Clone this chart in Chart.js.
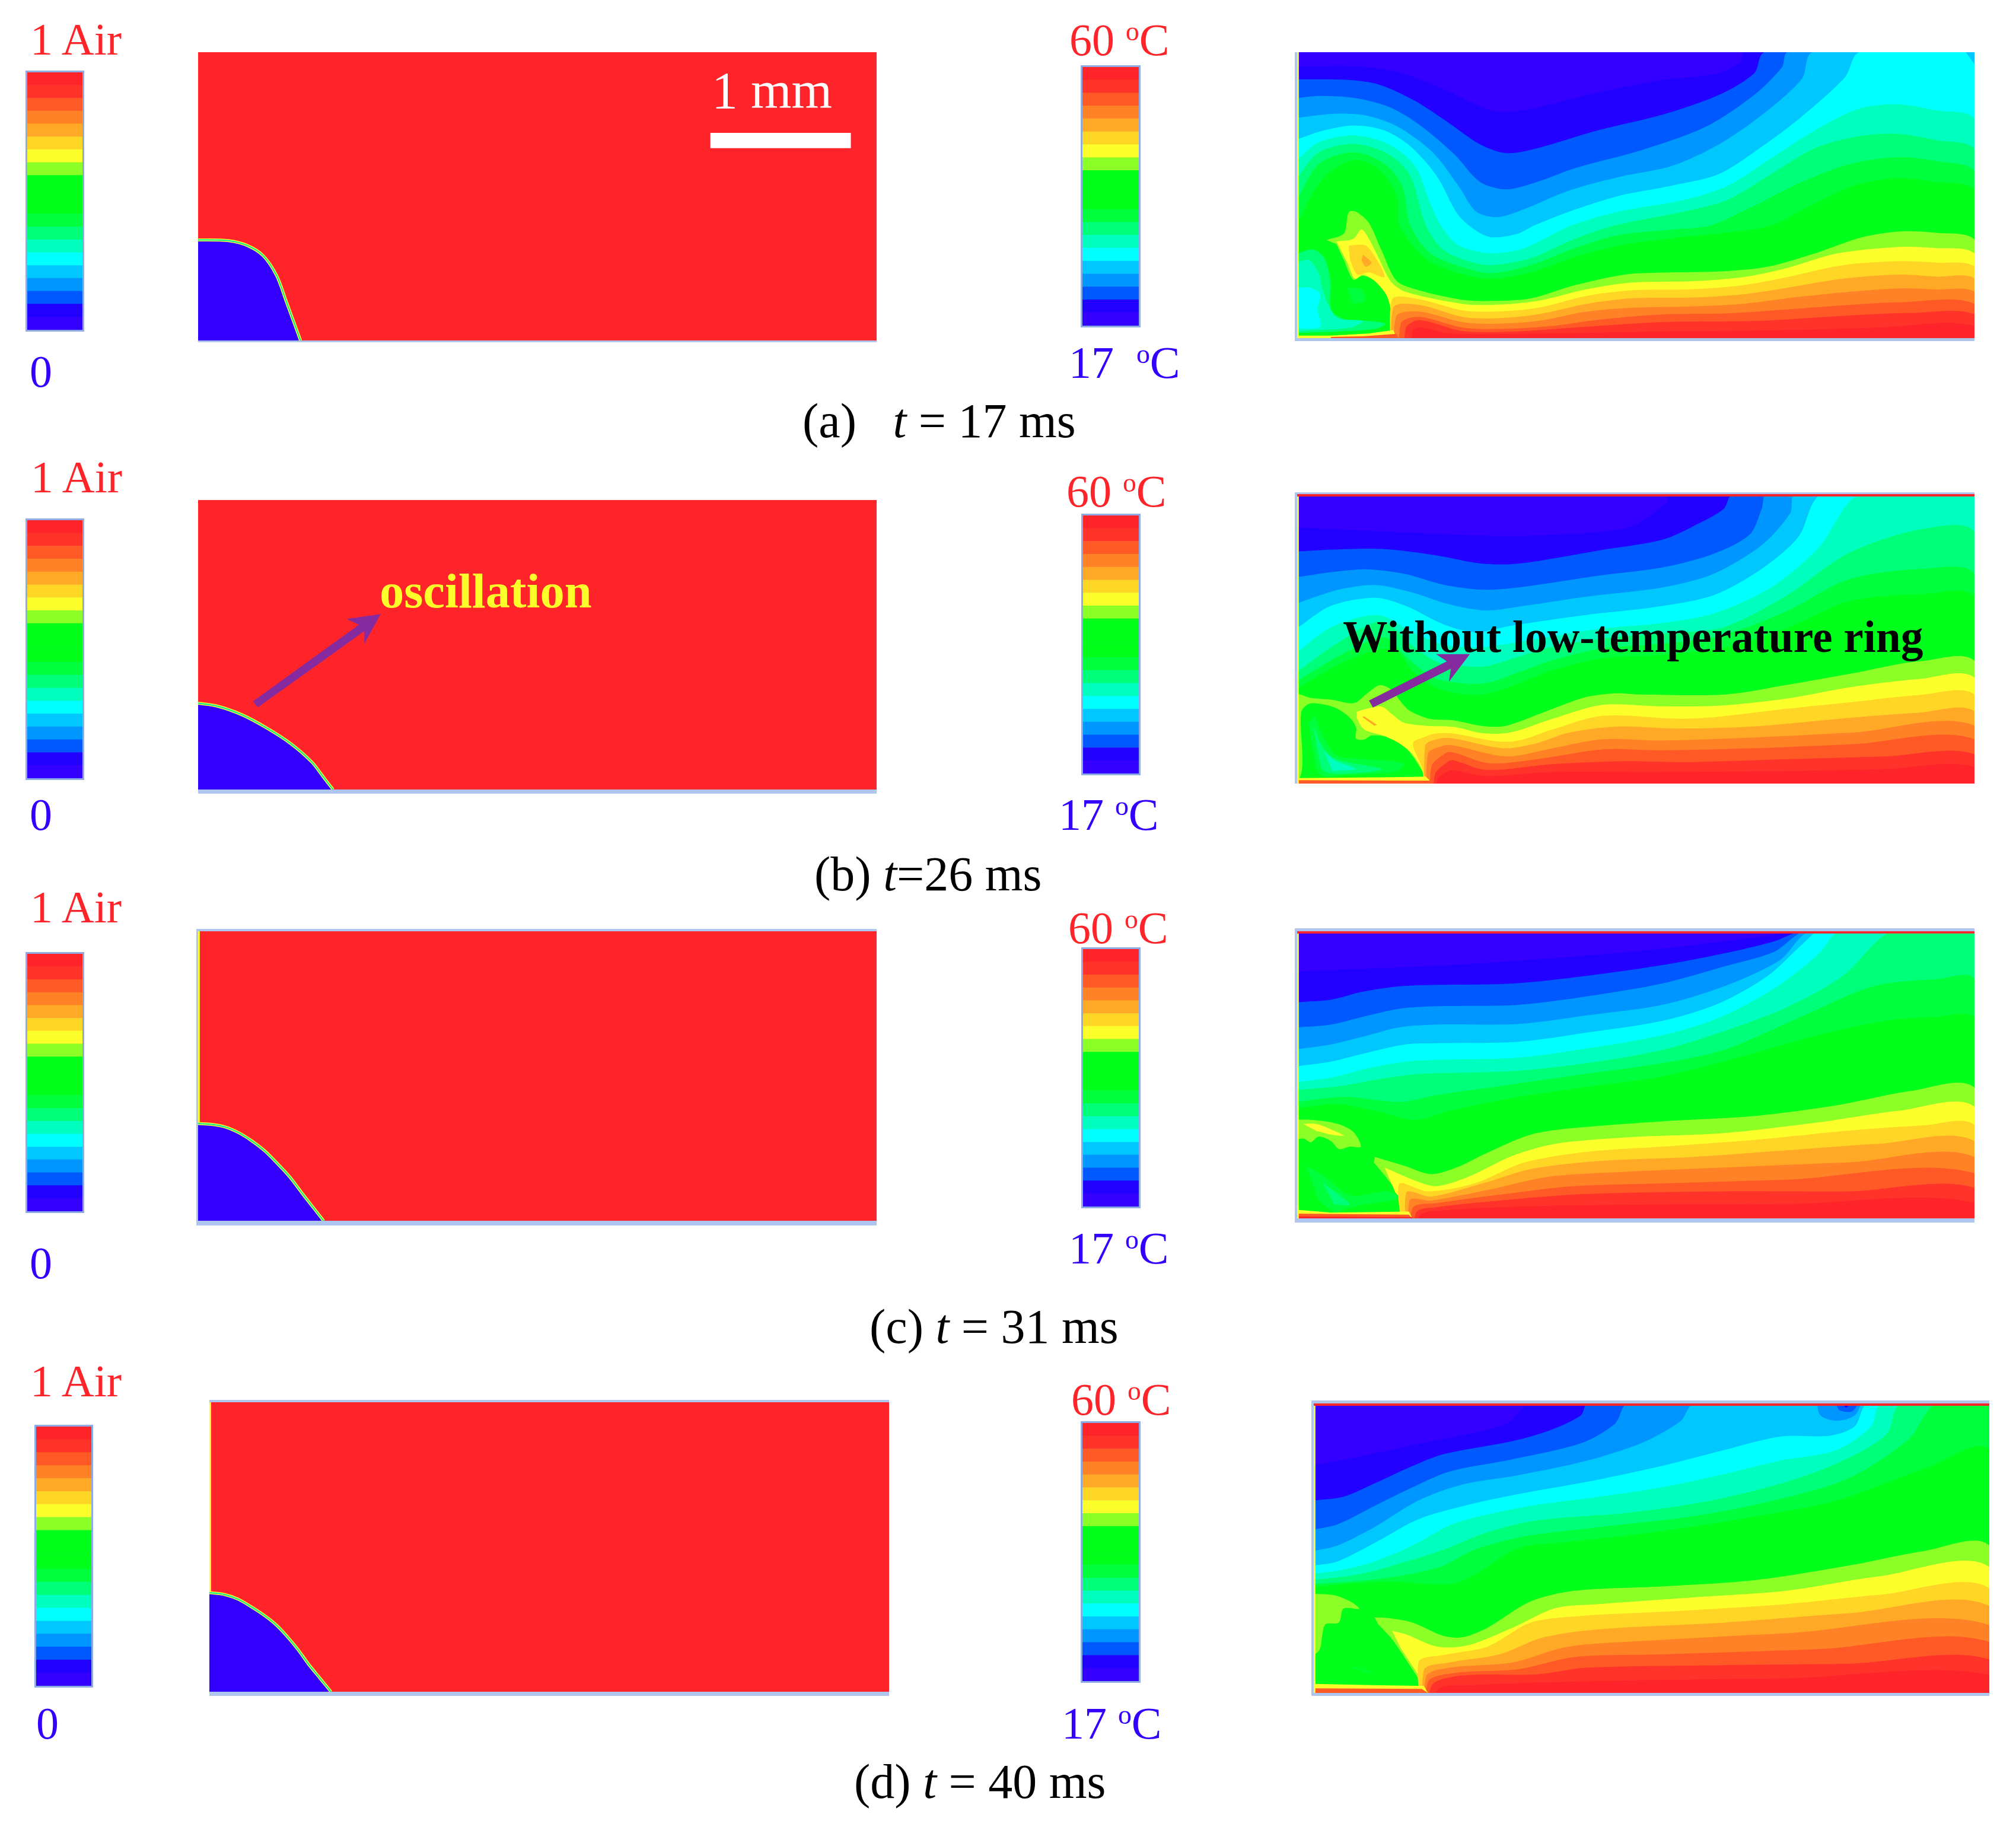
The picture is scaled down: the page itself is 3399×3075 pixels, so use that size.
<!DOCTYPE html>
<html>
<head>
<meta charset="utf-8">
<title>Droplet air fraction and temperature fields</title>
<script src="https://cdn.jsdelivr.net/npm/chart.js@4"></script>
<style>
html, body { margin: 0; padding: 0; background: #fff; }
#page { position: relative; width: 3399px; height: 3075px; overflow: hidden; font-family: "Liberation Serif", serif; }
#page canvas, .frame { position: absolute; display: block; }
.label { position: absolute; white-space: pre; line-height: 1; }
.label sup { font-size: 60%; line-height: 0; vertical-align: 0.55em; }
</style>
</head>
<body>
<div id="page"></div>
<script>
// colour legend values, bottom to top
const airLevels = [0, 0.05, 0.1, 0.15, 0.2, 0.25, 0.3, 0.35, 0.4, 0.45, 0.5, 0.55, 0.6, 0.65, 0.7, 0.75, 0.8, 0.85, 0.9, 0.95, 1];
const tempLevels = [17, 19.15, 21.3, 23.45, 25.6, 27.75, 29.9, 32.05, 34.2, 36.35, 38.5, 40.65, 42.8, 44.95, 47.1, 49.25, 51.4, 53.55, 55.7, 57.85, 60];

const violet = '#3300ff', indigo = '#2200ff', blue = '#0059ff', azure = '#0096ff', sky = '#00c8ff', cyan = '#00ffff';
const aqua = '#00ffbe', mint = '#00ff78', green2 = '#00ff3c', green = '#00ff1a', lime = '#8cff26', yellow = '#fdff2a';
const gold = '#ffd626', amber = '#ffa926', orange = '#ff8326', orRed = '#ff5a26', red2 = '#ff3329', red = '#ff2429';
const levelColors = [violet, indigo, blue, azure, sky, cyan, aqua, mint, green2, green, green, green, lime, yellow, gold, amber, orange, orRed, red2, red];

// field coordinates are percent of panel width and height, y from the wall
const wholePanel = [[-20, -20], [120, -20], [120, 120], [-20, 120]];
const leftWall = [[-2, -2], [0.25, -2], [0.25, 102], [-2, 102]];
const topWall = [[-2, 99.2], [102, 99.2], [102, 102], [-2, 102]];

// droplet outlines in the air fraction panels
const dropA = [[0, 34.9], [4.5, 34.6], [7.3, 32.9], [9.6, 29.4], [11.6, 22.4], [13, 13.5], [15.1, 0]];
const dropB = [[0, 29.8], [2.7, 28.9], [6.4, 25.9], [10.1, 21.3], [13.7, 15.8], [16.8, 9.4], [18.6, 3.9], [19.9, 0]];
const dropC = [[0, 33.6], [2, 33.3], [4, 32.4], [6, 30.4], [7.8, 27.8], [9.8, 24.2], [11.6, 20], [13.6, 14.9], [15.4, 9.3], [17, 4.5], [18.5, 0]];
const dropD = [[0, 34.2], [2.2, 33.6], [4.2, 32], [6, 29.6], [7.9, 26.7], [9.7, 23.4], [11.3, 19.5], [13, 14.7], [14.6, 9.5], [16.3, 4.6], [17.9, 0]];
const scaleBar = [[75.5, 72], [96.2, 72], [96.2, 66.7], [75.5, 66.7]];
const arrowB = [[8.1, 30.5], [8.8, 28.4], [24.5, 54.7], [24.5, 50.3], [26.9, 60.6], [21.9, 58.9], [23.7, 56.9]];

// temperature field (a) t = 17 ms
const aIndigo = [[0, 95], [9, 95], [15.4, 92.7], [21.9, 86.8], [28.3, 79.9], [32.8, 79.4], [44.3, 85.8], [54, 90.3], [62.3, 92.7], [65.5, 96.9], [66, 100]];
const aBlue = [[0, 90.5], [7.7, 90.3], [12.2, 88.6], [17.4, 83], [21.9, 76.1], [27, 67.8], [30.9, 64.7], [35.4, 66.4], [44.3, 72.6], [54, 78.2], [62.3, 85.1], [67.5, 92.7], [69, 100]];
const aAzure = [[0, 84], [3.3, 84.7], [8.4, 84], [13.5, 80.9], [18, 74.7], [23.2, 64.3], [27, 54.6], [30.9, 52], [35.4, 54.6], [41.1, 59.5], [50.8, 65.7], [60.4, 74], [67.5, 85.1], [71.6, 94.8], [72.4, 100]];
const aSky = [[0, 77.1], [5.8, 78.5], [10.3, 77.8], [14.8, 74], [20, 65], [23.8, 53.3], [26.4, 44.3], [29.6, 42.3], [33.4, 45], [40.5, 51.9], [47.6, 56.4], [55.3, 60.2], [62.3, 67.8], [68.7, 78.2], [74.5, 90.6], [76.1, 100]];
const aCyan = [[0, 69.5], [3.9, 72.6], [8.4, 74.4], [12.9, 72.6], [16.7, 67.1], [20.6, 56.7], [23.8, 43], [26.8, 37], [29, 35.2], [32.7, 36.6], [35, 39.4], [41.1, 45], [47.6, 49.8], [55.3, 53.3], [62.3, 57.4], [68.7, 67.1], [74.5, 77.5], [80.9, 91.3], [83, 100]];
const aAqua = [[0, 62.3], [3.2, 68.5], [8.4, 70.9], [13.5, 67.8], [17.4, 60.2], [19.5, 48], [21.2, 39.4], [23.5, 33], [26.2, 30.5], [29, 29.6], [33.6, 31.5], [40.5, 39.4], [47.6, 44.3], [57.2, 48.4], [63.6, 53.3], [70, 62.9], [76.4, 72.6], [82.9, 80.2], [88.6, 81.8], [94.4, 79.6], [100, 76.6]];
const aMint = [[0, 56], [3.2, 65], [8.4, 67.9], [13.5, 64.3], [16.7, 56.7], [19, 39.4], [21.5, 31], [24.5, 27.5], [28.5, 25.5], [34.5, 28], [41, 34.7], [46.9, 39.4], [57.2, 44.3], [63.6, 48.4], [70, 57.4], [76.4, 66.4], [82.9, 70.6], [88.6, 71.4], [94.4, 69.2], [100, 66]];
const aGreen2 = [[0, 48.4], [3.2, 60.9], [8.4, 65], [12.9, 60.9], [15.5, 53.3], [16.7, 39.4], [19.5, 30], [23.5, 25.5], [28.5, 22.7], [34.5, 25.5], [41, 31.5], [47.4, 36], [55.7, 38], [61, 39.4], [67.5, 46.3], [74.5, 54.6], [81.6, 60.9], [88.6, 63.3], [94.4, 61.9], [100, 58.4]];
const aGreen = [[0, 40], [2.6, 51.9], [5.2, 58.8], [8.7, 62.3], [12.2, 58.8], [14.8, 49.1], [15.1, 39.4], [18.9, 28], [23.5, 23], [28.5, 20.8], [34.5, 23], [41, 28.5], [48.4, 32.8], [55.7, 35], [63, 36.8], [70, 39.4], [75.2, 45.6], [82.2, 53.3], [88.6, 56], [94.4, 54.6], [100, 51.9]];
const aCorner = [[98.7, 100], [100, 95.8], [106, 94], [106, 106]];
const aLime = [[4.3, 34.3], [6.9, 36.6], [7.6, 44], [8.7, 44.2], [10.6, 40.3], [12.4, 31], [14.7, 20], [18, 16.7], [24.4, 13.4], [29, 13], [34.5, 13.9], [41, 18.5], [48.3, 22.2], [53.9, 22.9], [63, 23.4], [69.5, 25], [76.9, 30], [83.3, 35.2], [88.9, 37.3], [94.4, 36.8], [100, 34.5], [120, -20], [14.4, -20], [14.4, 0], [13.4, 14.4], [11.5, 19.9], [9.7, 21.8], [8.3, 20.4], [6.9, 27.3], [5.8, 32.9]];
const aYellow = [[5.8, 33.8], [8.3, 34.7], [9.5, 38], [10.6, 34.7], [12, 28.2], [13.8, 19.9], [16, 16.2], [24.4, 12], [29, 11.6], [35.5, 13], [42.8, 17.1], [49.3, 19.4], [58.5, 19.9], [65.8, 21.3], [72.3, 24.5], [79.7, 29.6], [88.9, 31.9], [94.4, 31.5], [100, 29.6], [120, -20], [14.4, -20], [14.4, 0], [13.4, 13.9], [11.5, 19.9], [9.7, 22.2], [8.5, 20.8], [7.4, 26.4]];
const aGold = [[14.4, -20], [14, 13.4], [18, 13.6], [24.4, 9.7], [29, 9.3], [35.5, 10.6], [42.8, 14.8], [49.3, 16.7], [58.5, 17.1], [65.8, 18.5], [72.3, 21.3], [80.6, 25.5], [88.9, 26.9], [94.4, 26.4], [100, 25]];
const aAmber = [[14.4, -20], [14.2, 10.6], [18, 11.6], [24.4, 7.4], [29, 6.9], [35.5, 8.3], [42.8, 12], [49.3, 13.9], [58.5, 14.2], [65.8, 15.3], [72.3, 17.6], [80.6, 20.8], [88.9, 22.2], [94.4, 21.5], [100, 20.8]];
const aOrange = [[14.6, -20], [14.6, 7.4], [18, 9.3], [24.4, 5.6], [29, 5], [35.5, 6], [42.8, 9.3], [49.3, 10.6], [58.5, 11.1], [65.8, 12], [74, 14.4], [81.5, 16.2], [88.9, 17.4], [94.4, 17], [100, 16.2]];
const aOrRed = [[15.3, -20], [15.3, 5], [18, 7.4], [24.4, 3.7], [30, 3.2], [37.4, 4.2], [44.7, 6.5], [54, 8.3], [63, 8.6], [72.3, 10], [81.5, 11.6], [88.9, 12.5], [100, 12]];
const aRed2 = [[16, -20], [16, 3.2], [18, 6.3], [24.4, 2.5], [31.8, 2.3], [41, 3.7], [54, 5.6], [67.7, 6], [81.5, 7.9], [90.7, 8.8], [100, 8.3]];
const aRed = [[17, -20], [17, 2.3], [18.2, 3.7], [22.6, 1.6], [35.5, 1.6], [54, 2.3], [72.3, 2.8], [86, 3.7], [100, 4.2]];
const aPlumeGold = [[7.6, 32.4], [10.1, 32.4], [12, 26.4], [12.9, 21.3], [10.6, 23], [8.9, 22.2], [7.8, 27.3]];
const aPlumeAmber = [[9.7, 29.2], [11, 26.4], [10.1, 25], [9.5, 27.3]];
const aPoolMint = [[0, 29.6], [2.3, 31], [4, 28], [4.9, 20], [5, 10], [7, 6.5], [10.5, 6], [13, 5], [11.5, 3.2], [6, 2.3], [0, 1.8]];
const aPoolAqua = [[0, 26.4], [1.8, 27.3], [3.2, 22.7], [3.7, 17.6], [4.6, 11.6], [6, 7], [9.7, 6], [8, 3.7], [2.3, 2.8], [0, 2.3]];
const aPoolCyan = [[0, 17.6], [2, 17.6], [3.4, 15.3], [3, 10], [3.4, 4], [0, 3.2]];
const aPoolGreen2 = [[7.4, 17.5], [9.5, 17], [10, 13], [8.2, 12]];
const aFilmYellow = [[0, 0.9], [5, 0.9], [10.5, 1.6], [14.2, 2.8], [14.7, 0], [0, 0]];
const aFilmOrRed = [[5, 0.4], [10, 0.7], [14.7, 1.5], [15, 0], [5, 0]];

// temperature field (b) t = 26 ms
const bIndigo = [[0, 88.4], [27, 85.7], [35, 85.7], [49, 88.6], [54.5, 97], [55, 100]];
const bBlue = [[0, 80.2], [6, 80.9], [13, 81], [20.7, 78.8], [27.2, 76], [32.7, 76], [44.7, 80.6], [54, 84.3], [59.4, 90], [63, 95], [64.3, 100]];
const bAzure = [[0, 71.3], [6, 73.3], [10.6, 74], [16, 72.4], [21.6, 68.7], [27.2, 67], [32.7, 67.8], [44.7, 71.9], [54, 74.7], [61.4, 79.3], [66.8, 86], [68.6, 95], [69.3, 100]];
const bSky = [[0, 62.3], [6, 66.9], [11.5, 68.6], [17, 66], [22.5, 61.9], [28, 59.8], [33.6, 61.4], [42.8, 64.6], [54, 67.8], [61.4, 72.4], [68.6, 82.4], [72.8, 93.4], [73.5, 100]];
const bCyan = [[0, 53.7], [5, 61.4], [11.5, 64.2], [16, 61.4], [21.6, 55], [26.2, 52.3], [31.8, 54.6], [42.8, 58.3], [52.9, 61], [61.4, 65], [68.6, 74.2], [74, 85.2], [77.5, 100]];
const bAqua = [[0, 45.4], [5, 54], [12, 58.2], [17, 52.3], [21.6, 48], [26.2, 47], [30.4, 48], [38, 51], [44.7, 53.5], [54, 55.5], [61.4, 58.7], [70, 67.8], [77, 81.5], [83.1, 100]];
const bMint = [[0, 38.6], [6, 48.6], [12.4, 56], [17, 47.7], [20.7, 42], [25, 40.5], [27.9, 40.5], [32.8, 43.9], [37.7, 47.3], [46.5, 50.5], [54.8, 52], [63, 54], [72.3, 65], [81.5, 79.7], [92.5, 88], [100, 86.8]];
const bGreen2 = [[0, 35.4], [6.9, 45], [12.9, 50.5], [16, 44], [19.8, 37], [23, 35], [27.9, 34.7], [32.8, 38.5], [37.7, 42.6], [45.1, 46.7], [54.8, 48.5], [63, 51.4], [72.3, 59.6], [81.5, 70.6], [92.5, 74.2], [100, 72.4]];
const bGreen = [[0, 33], [7.8, 43], [14.3, 46.5], [17, 39], [20.7, 33], [24.4, 31], [27.9, 31], [32.8, 34.7], [37.7, 39.2], [45.1, 43.3], [54.9, 44.6], [64, 47.5], [72.3, 53.7], [81.5, 63], [92.5, 65.5], [100, 64.6]];
const bLime = [[-5, 31], [0, 31], [2, 29.6], [5, 29], [8.4, 27.8], [10.2, 30.9], [12.2, 34], [14, 32.3], [15.1, 28.9], [16.6, 25.2], [19.5, 22.4], [23, 21.9], [27.4, 19.9], [30.9, 20], [37.7, 25.8], [42.7, 29.9], [47.1, 31.2], [50.5, 30.8], [63.3, 30.8], [72.1, 34], [82, 38.1], [87.9, 40.9], [91.8, 42.2], [100, 42.4], [120, -20], [18.9, -20], [18.9, 1.6], [18.3, 5], [16, 12.5], [13.6, 15.9], [11, 16.6], [9.9, 15.2], [8.7, 15.5], [8.7, 19.3], [7.8, 22.7], [5.8, 26], [3.5, 27.5], [1.7, 27.5], [0.6, 24.6], [0.3, 1.6], [-5, 1.6]];
const bYellow = [[8.8, 24.8], [10.4, 25.9], [12.5, 26.6], [13.9, 24.2], [15.7, 21.1], [18.9, 20], [23, 19.6], [27.4, 17.4], [31.4, 17.6], [37.7, 22.4], [45.1, 27.2], [53.5, 26.7], [62.3, 26.9], [72.1, 29.3], [82, 33.4], [91.8, 36.1], [100, 36.6], [120, -20], [19, -20], [18.6, 3.3], [17.1, 9.9], [15.1, 13.9], [12.8, 16.5], [10.2, 18.3], [9.4, 20], [8.8, 22.7]];
const bGold = [[19, -20], [18.6, 4], [17.1, 13.9], [18.9, 16.2], [20.5, 17.3], [23, 17.3], [29.4, 14.6], [32.8, 14.9], [37.7, 18.7], [45.1, 23.4], [56.4, 22.4], [62.3, 23.1], [72.1, 25.8], [82, 28.2], [91.8, 30.6], [100, 30.8]];
const bAmber = [[19.3, -20], [18.9, 13], [21, 15.5], [23, 15.6], [30.4, 12.2], [35.3, 13.9], [40.2, 17.6], [47.6, 19.7], [56.4, 19], [67.2, 19.7], [82, 22.8], [91.8, 24.5], [100, 25]];
const bOrange = [[19.3, -20], [19.3, 10.2], [21.5, 13], [23, 13.2], [30.9, 9.4], [37.7, 12.2], [45.1, 15.3], [53.5, 14.9], [67.2, 15.9], [82, 17.6], [100, 20]];
const bOrRed = [[19.8, -20], [19.8, 5.7], [22, 10.6], [23, 10.8], [28.4, 7], [35.3, 8.4], [45.1, 11.8], [53.5, 11.5], [67.2, 12.2], [82, 13.6], [100, 15.3]];
const bRed2 = [[20.3, -20], [20.3, 2.9], [22.2, 7.5], [23, 8.1], [27.9, 4.7], [37.7, 6.7], [47.6, 7.7], [57.4, 7.4], [72.1, 8.4], [86.9, 9.4], [100, 10.1]];
const bRed = [[20.7, -20], [20.7, 1.1], [22.5, 4.5], [23, 4.7], [27.9, 2.6], [37.7, 4], [52.5, 4], [72.1, 4.3], [86.9, 5], [100, 5.7]];
const bPoolGreen2 = [[2.6, 23.8], [3.5, 17.9], [5.8, 9.8], [10.2, 8.4], [15.7, 7], [14.8, 4.3], [7.2, 3], [3.5, 3], [2.3, 12.5], [1.7, 20.7]];
const bPoolMint = [[2.4, 20], [3.8, 12.5], [5.8, 8.4], [12.5, 5], [8.7, 3.6], [4, 4.3], [2.9, 12.5]];
const bPoolAqua = [[4, 11.1], [5.5, 8.1], [8.7, 5], [5.2, 4.3]];
const bStreak = [[9.9, 23.2], [11.8, 20.3], [11.4, 20], [9.6, 23]];
const bFilmYellow = [[-1, 2], [0, 1.9], [14, 2.2], [19, 2.4], [20, 0], [-1, 0]];
const bFilmOrRed = [[-1, 1.2], [16, 1], [20, 1], [20, 0], [-1, 0]];
const bArrow = [[10.6, 28.7], [11.2, 26.3], [22.7, 39.7], [22.4, 35.2], [25.5, 44.7], [20.5, 44.7], [22.1, 42.2]];

// temperature field (c) t = 31 ms
const cIndigo = [[0, 86], [26, 88.7], [49, 92.8], [63, 96.5], [73.8, 100]];
const cBlue = [[0, 75.3], [5, 76.2], [9.7, 79], [16, 81], [31.8, 81.8], [42.8, 84.5], [53.9, 88.2], [63, 92.3], [70.4, 96.5], [74.3, 100]];
const cAzure = [[0, 66.5], [5, 67.5], [9.7, 70.2], [15, 73], [20.7, 73.9], [32.7, 74.4], [44.7, 78], [53.9, 81.8], [63, 87.7], [70.4, 92.8], [74.9, 100]];
const cSky = [[0, 58.9], [5, 60.6], [9.7, 63.3], [15, 66.5], [20.7, 67.5], [32.7, 67.7], [42.8, 70.7], [53.9, 74.4], [63, 80.8], [71.3, 90], [75.7, 100]];
const cCyan = [[0, 53], [5, 54.6], [10.5, 57.8], [16, 60.6], [20.7, 61], [32.7, 61.5], [42.8, 64.7], [53.9, 68.8], [62.2, 74.8], [69.5, 84.5], [74.6, 95.5], [77, 100]];
const cAqua = [[0, 47.5], [5, 49], [10.5, 52.3], [16, 54.6], [20.7, 55.2], [32.7, 56], [42.8, 59.2], [53.9, 63.8], [62.2, 69.8], [70.4, 80], [76.9, 91.9], [80.1, 100]];
const cMint = [[0, 44.7], [6.9, 46.3], [13.4, 49], [18.9, 50.4], [31.8, 51.3], [42.8, 54.1], [53.9, 58.7], [63, 65.2], [72.3, 73.5], [80.6, 84.5], [87.8, 100]];
const cGreen2 = [[0, 40.6], [6.9, 42.3], [15.3, 40.6], [20.7, 43], [31.8, 46.7], [42.8, 50.4], [53.9, 54.1], [63, 58.7], [74, 69.8], [85, 80.8], [94.4, 83.3], [100, 83.3]];
const cGreen = [[0, 38.4], [6, 39.8], [11.5, 37.5], [17.5, 34.3], [22.5, 37.5], [31.8, 42], [42.8, 45.8], [53.9, 49.5], [65, 56], [76, 63.3], [87, 68.9], [94.4, 70.2], [100, 69.8]];
const cLime = [[11.5, 21.4], [16, 18.2], [19.8, 15.4], [23.5, 17.7], [28, 22.8], [34.5, 29.2], [41, 31.5], [53.9, 33.8], [67.7, 35.7], [79.7, 39.4], [90.7, 44.4], [100, 45.5], [120, -20], [17, -20], [16.8, 2.5], [13.4, 13.5], [11.3, 19.5]];
const cYellow = [[12.9, 17.7], [18, 12.6], [20.7, 11.2], [25.3, 14.5], [31.8, 21.8], [38.2, 26], [49.3, 28.3], [63, 29.7], [76.9, 33.4], [88.9, 37.5], [100, 38.9], [120, -20], [17, -20], [16.8, 2.5], [14.5, 9]];
const cGold = [[17, -20], [15, 11.7], [19.3, 9.4], [26.2, 12.2], [33.6, 19.5], [42.8, 23.2], [53.9, 25], [67.7, 27.4], [81.5, 30.6], [92.5, 32.4], [100, 32.6]];
const cAmber = [[17, -20], [16.1, 8.9], [19.8, 7.6], [28, 12.6], [34.5, 17.2], [44.7, 20], [58.5, 21.4], [72.3, 23.7], [85.9, 26], [100, 26.9]];
const cOrange = [[17, -20], [16.6, 6.2], [19.8, 6.2], [28.9, 10.3], [37.2, 14.5], [49.3, 16.3], [63, 17.7], [81.5, 19.5], [100, 21.4]];
const cOrRed = [[17, -20], [17, 3.4], [20.7, 5.3], [30.8, 8.5], [40.8, 11.2], [53.9, 12.2], [72.3, 13.5], [100, 15.7]];
const cRed2 = [[17.5, -20], [17.5, 1.8], [20.7, 3.9], [31.8, 6.6], [42.8, 8.5], [63, 9.4], [81.5, 9.4], [100, 10.6]];
const cRed = [[18, -20], [18, 0.6], [22.5, 2.9], [35.5, 4.3], [53.9, 4.8], [72.3, 5], [100, 5.5]];
const cCapLime = [[-2, 34.3], [2.3, 34.3], [6, 32.9], [8.3, 30.1], [9.4, 25], [7.8, 25], [6.2, 24.1], [5, 26.9], [3.2, 28.5], [2, 26.5], [0.9, 27.8], [-2, 26.9]];
const cCapYellow = [[0.9, 32.9], [2.8, 32.9], [5, 31], [6.9, 28.8], [5, 29.2], [2.8, 30.5]];
const cPoolGreen2 = [[1.4, 18.2], [4.1, 14.5], [7.8, 8], [13.4, 9.4], [15, 7], [8.7, 4.3], [5.5, 2.5], [3.2, 6.2]];
const cPoolMint = [[3.7, 12.6], [6, 8.5], [7.8, 4.8], [5.5, 4.8]];
const cFilmYellow = [[-1, 3.2], [5, 2], [16.5, 2.4], [17, 0], [-1, 0]];
const cFilmOrRed = [[-1, 1.7], [16.5, 1.3], [17, 0], [-1, 0]];
const cFilmRed = [[-1, 0.7], [17, 0.4], [17, 0], [-1, 0]];

// temperature field (d) t = 40 ms
const dIndigo = [[0, 78.6], [5.4, 81], [14.6, 85.6], [28.4, 92.9], [32.1, 100]];
const dBlue = [[0, 66.5], [4.4, 67.8], [9, 72.4], [14.6, 78.4], [19.2, 82.5], [29.4, 87], [34.9, 90.7], [39.5, 95.8], [40.6, 100]];
const dAzure = [[0, 56.4], [3.5, 58.2], [9, 64.6], [14.6, 71], [20.1, 76.5], [29.4, 80.7], [39.5, 86.2], [44.6, 93], [46.5, 100]];
const dSky = [[0, 49], [3.5, 50.9], [9, 57.3], [15.5, 66.5], [22, 72], [30.3, 75.2], [40.4, 80.2], [48.8, 86.6], [54.3, 93.9], [56.3, 100]];
const dCyan = [[0, 44], [3.5, 45.4], [9, 51.8], [15.5, 60], [22.9, 65], [30.3, 68.7], [40.4, 72.9], [51.5, 78.4], [60.8, 83.9], [69, 88.5], [76.5, 88.9], [80.1, 92.1], [82, 100]];
const dAqua = [[0, 41.2], [3.5, 42.2], [9, 45.4], [14.6, 50.9], [21, 58.7], [32.1, 64.6], [42.3, 67.8], [51.5, 71], [60.8, 75.6], [69, 80.2], [77.4, 83.9], [82.5, 92.1], [84, 100]];
const dMint = [[0, 39], [7.2, 41.2], [13.7, 45.4], [19.2, 49.5], [25.7, 55.5], [33, 59.6], [46.9, 62.3], [58.9, 66.5], [70, 72.9], [78.3, 80.2], [84.8, 89.4], [86.9, 100]];
const dGreen2 = [[0, 37.6], [8.1, 39], [14.6, 41.2], [19.2, 44], [23.8, 49.5], [31.2, 54.1], [42.3, 57.3], [56.1, 61], [68.1, 66.5], [79.2, 74.2], [88, 87.5], [92.2, 100]];
const dGreen = [[0, 36.7], [10.9, 38.5], [20.1, 37.6], [23.8, 40.8], [30.3, 50], [37.7, 52.2], [51.5, 55.9], [65.4, 61], [77.4, 66.5], [90.3, 77.4], [100, 83.9]];
const dLime = [[9, 26.1], [10.9, 25.9], [14.6, 24.3], [19.2, 19.7], [22, 19.2], [25.7, 22.5], [32.1, 31.6], [38.6, 35.3], [51.5, 36.8], [65.4, 39], [79.2, 44], [90.3, 49], [100, 50.9], [120, -20], [16.9, -20], [16.9, 1], [15.5, 5], [11.8, 17.9], [9.5, 23.8]];
const dYellow = [[11.6, 21.4], [13.7, 20.2], [18.3, 16], [22.9, 16.5], [29.4, 22.5], [35.8, 29.3], [42.3, 30.7], [56.1, 33], [70, 35.3], [83.8, 40.3], [100, 43.5], [120, -20], [16.9, -20], [16.9, 1], [15.8, 5], [13, 15]];
const dGold = [[16.9, -20], [15.5, 10.5], [19.2, 13.1], [25.7, 16], [32.1, 24.3], [39.5, 26.6], [51.5, 28], [70, 30.7], [83.8, 33.9], [100, 36.2]];
const dAmber = [[16.9, -20], [16.3, 7.8], [20.1, 10.5], [27.5, 13.3], [34, 19.2], [42.3, 22], [60.8, 24.3], [79.2, 27.5], [100, 30]];
const dOrange = [[16.9, -20], [16.6, 5.5], [20.1, 8.7], [29.4, 10.5], [37.7, 16], [51.5, 18.3], [70, 20.6], [100, 23.4]];
const dOrRed = [[16.9, -20], [16.9, 3.7], [21, 6.9], [30.3, 8.2], [38.6, 12.4], [51.5, 13.3], [74.6, 15.1], [100, 17.6]];
const dRed2 = [[17.4, -20], [17.4, 2.3], [22, 6], [33, 6.4], [40.4, 8.7], [60.8, 9.6], [79.2, 10.1], [100, 11.6]];
const dRed = [[18.3, -20], [18.3, 0.9], [23.8, 2.7], [42.3, 4.1], [70, 5], [100, 6.2]];
const dEddyAzure = [[74.4, 101], [75, 95.9], [77.4, 94], [80.1, 95.9], [81.2, 101]];
const dEddyBlue = [[77.2, 101], [77.8, 97.7], [79.7, 97.3], [80.9, 101]];
const dEddyIndigo = [[78.1, 101], [78.8, 98.6], [79.7, 101]];
const dCapLime = [[-5, 34.2], [2.6, 33.9], [5.4, 31.6], [6.7, 29.1], [4.4, 29.1], [3.7, 24.3], [1.7, 23.6], [0.9, 15.1], [0, 13.3], [-5, 13]];
const dPoolGreen2 = [[5.4, 9.2], [9, 6.9], [8, 7.2], [5.8, 8.7]];
const dFilmYellow = [[-1, 3.2], [8.3, 2.7], [16.3, 2.4], [16.9, 0], [-1, 0]];
const dFilmOrRed = [[-1, 1.6], [16, 1.4], [16.9, 0], [-1, 0]];

// close an isotherm along the panel edges, warm side included
function below(curve) {
    const last = curve[curve.length - 1];
    const corners = last[1] >= 100 ? [[120, 120], [120, -20], [-20, -20]] : [[120, -20], [-20, -20]];
    return curve.concat(corners);
}
function warm(curve) {
    return curve.concat([[120, -20]]);
}

function cool(prefix) {
    return [
        [prefix.indigo, indigo], [prefix.blue, blue], [prefix.azure, azure], [prefix.sky, sky], [prefix.cyan, cyan],
        [prefix.aqua, aqua], [prefix.mint, mint], [prefix.green2, green2], [prefix.green, green]
    ].map(([curve, color]) => [below(curve), color]);
}

const page = document.getElementById('page');

function addBox(x, y, w, h, color) {
    const el = document.createElement('div');
    el.className = 'frame';
    el.style.cssText = `left:${x}px;top:${y}px;width:${w}px;height:${h}px;background:${color}`;
    page.appendChild(el);
}
function addCanvas(x, y, w, h) {
    const c = document.createElement('canvas');
    c.width = w;
    c.height = h;
    c.style.cssText = `left:${x}px;top:${y}px;width:${w}px;height:${h}px`;
    page.appendChild(c);
    return c;
}
function addLabel(html, x, base, size, color, weight) {
    const el = document.createElement('div');
    el.className = 'label';
    el.innerHTML = html;
    el.style.left = x + 'px';
    el.style.top = (base - 0.8375 * size) + 'px';
    el.style.fontSize = size + 'px';
    el.style.color = color;
    if (weight) el.style.fontWeight = weight;
    page.appendChild(el);
}

const baseOptions = {
    responsive: false,
    animation: false,
    devicePixelRatio: 1,
    events: [],
    layout: { padding: 0 },
    plugins: { legend: { display: false }, tooltip: { enabled: false }, title: { display: false } }
};

// layers: [points, color, tension, lineWidth], first one is painted first
function fieldChart(box, layers) {
    const datasets = layers.map(([pts, color, tension, lineWidth], i) => ({
        data: pts.map(([x, y]) => ({ x, y })),
        showLine: true,
        order: -i,
        tension: tension === undefined ? 0.3 : tension,
        fill: lineWidth ? false : 'shape',
        backgroundColor: color,
        borderColor: color,
        borderWidth: lineWidth || 0,
        pointRadius: 0
    }));
    return new Chart(addCanvas(box[0], box[1], box[2], box[3]), {
        type: 'scatter',
        data: { datasets },
        options: {
            ...baseOptions,
            elements: { line: { capBezierPoints: false } },
            scales: {
                x: { type: 'linear', min: 0, max: 100, display: false },
                y: { type: 'linear', min: 0, max: 100, display: false }
            }
        }
    });
}

function legendBar(box, levels) {
    addBox(box[0] - 3, box[1] - 3, box[2] + 6, box[3] + 6, '#8fabe4');
    const datasets = levelColors.map((color, i) => ({
        data: [[levels[i], levels[i + 1]]],
        backgroundColor: color,
        borderWidth: 0,
        grouped: false,
        barPercentage: 1,
        categoryPercentage: 1
    }));
    return new Chart(addCanvas(box[0], box[1], box[2], box[3]), {
        type: 'bar',
        data: { labels: [''], datasets },
        options: {
            ...baseOptions,
            scales: {
                x: { display: false },
                y: { display: false, min: levels[0], max: levels[levels.length - 1] }
            }
        }
    });
}

function dropLayers(outline) {
    return [
        [outline.concat([[outline[outline.length - 1][0], -20], [-20, -20], [-20, outline[0][1]]]), violet],
        [outline, yellow, 0.3, 5],
        [outline, '#00e8a0', 0.3, 2]
    ];
}

// air fraction panels
addBox(334, 572, 1144, 5, '#aec5ee');
fieldChart([334, 88, 1144, 486], [[wholePanel, red]].concat(dropLayers(dropA), [[scaleBar, '#ffffff', 0]]));

addBox(334, 1328, 1144, 10, '#aec5ee');
fieldChart([334, 843, 1144, 488], [[wholePanel, red]].concat(dropLayers(dropB), [[arrowB, '#852a9f', 0]]));

addBox(331, 1566, 1147, 500, '#aec5ee');
fieldChart([334, 1570, 1144, 488], [[wholePanel, red], [leftWall, yellow, 0]].concat(dropLayers(dropC)));

addBox(353, 2360, 1146, 499, '#aec5ee');
fieldChart([353, 2364, 1146, 488], [[wholePanel, red], [leftWall, yellow, 0]].concat(dropLayers(dropD)));

// temperature panels
addBox(2183, 88, 1146, 487, '#aec5ee');
fieldChart([2187, 88, 1142, 482], [[wholePanel, violet]].concat(
    cool({ indigo: aIndigo, blue: aBlue, azure: aAzure, sky: aSky, cyan: aCyan, aqua: aAqua, mint: aMint, green2: aGreen2, green: aGreen }), [
    [aCorner, sky, 0],
    [aPoolGreen2, green2], [aPoolMint, mint], [aPoolAqua, aqua], [aPoolCyan, cyan],
    [aLime, lime], [aYellow, yellow], [aPlumeGold, gold], [aPlumeAmber, amber],
    [warm(aGold), gold], [warm(aAmber), amber], [warm(aOrange), orange], [warm(aOrRed), orRed], [warm(aRed2), red2], [warm(aRed), red],
    [aFilmYellow, yellow, 0], [aFilmOrRed, orRed, 0], [leftWall, yellow, 0]
]));

addBox(2183, 830, 1146, 491, '#aec5ee');
fieldChart([2187, 833, 1142, 488], [[wholePanel, violet]].concat(
    cool({ indigo: bIndigo, blue: bBlue, azure: bAzure, sky: bSky, cyan: bCyan, aqua: bAqua, mint: bMint, green2: bGreen2, green: bGreen }), [
    [bPoolGreen2, green2], [bPoolMint, mint], [bPoolAqua, aqua],
    [bLime, lime], [bYellow, yellow], [bStreak, amber, 0],
    [warm(bGold), gold], [warm(bAmber), amber], [warm(bOrange), orange], [warm(bOrRed), orRed], [warm(bRed2), red2], [warm(bRed), red],
    [bFilmYellow, yellow, 0], [bFilmOrRed, orRed, 0], [leftWall, yellow, 0], [topWall, red, 0], [bArrow, '#852a9f', 0]
]));

addBox(2183, 1565, 1146, 496, '#aec5ee');
fieldChart([2187, 1570, 1142, 484], [[wholePanel, violet]].concat(
    cool({ indigo: cIndigo, blue: cBlue, azure: cAzure, sky: cSky, cyan: cCyan, aqua: cAqua, mint: cMint, green2: cGreen2, green: cGreen }), [
    [cPoolGreen2, green2], [cPoolMint, mint], [cCapLime, lime], [cCapYellow, yellow],
    [cLime, lime], [cYellow, yellow],
    [warm(cGold), gold], [warm(cAmber), amber], [warm(cOrange), orange], [warm(cOrRed), orRed], [warm(cRed2), red2], [warm(cRed), red],
    [cFilmYellow, yellow, 0], [cFilmOrRed, orRed, 0], [cFilmRed, red, 0], [leftWall, yellow, 0], [topWall, red, 0]
]));

addBox(2211, 2361, 1143, 498, '#aec5ee');
fieldChart([2215, 2366, 1139, 488], [[wholePanel, violet]].concat(
    cool({ indigo: dIndigo, blue: dBlue, azure: dAzure, sky: dSky, cyan: dCyan, aqua: dAqua, mint: dMint, green2: dGreen2, green: dGreen }), [
    [dEddyAzure, azure], [dEddyBlue, blue], [dEddyIndigo, indigo],
    [dCapLime, lime], [dPoolGreen2, green2],
    [dLime, lime], [dYellow, yellow],
    [warm(dGold), gold], [warm(dAmber), amber], [warm(dOrange), orange], [warm(dOrRed), orRed], [warm(dRed2), red2], [warm(dRed), red],
    [dFilmYellow, yellow, 0], [dFilmOrRed, orRed, 0], [leftWall, yellow, 0], [topWall, red, 0]
]));

// colour legends
legendBar([46, 122, 93, 434], airLevels);
legendBar([46, 877, 93, 435], airLevels);
legendBar([46, 1608, 93, 434], airLevels);
legendBar([61, 2405, 93, 437], airLevels);
legendBar([1825, 113, 95, 436], tempLevels);
legendBar([1826, 869, 94, 435], tempLevels);
legendBar([1826, 1600, 94, 434], tempLevels);
legendBar([1825, 2399, 95, 435], tempLevels);

// text
const textRed = '#ff2429', textBlue = '#3300ff';
const degC = '<sup>o</sup>C';
addLabel('1 Air', 51, 92, 76, textRed);
addLabel('0', 50, 652, 76, textBlue);
addLabel('1 Air', 52, 830, 76, textRed);
addLabel('0', 50, 1399, 76, textBlue);
addLabel('1 Air', 51, 1555, 76, textRed);
addLabel('0', 50, 2155, 76, textBlue);
addLabel('1 Air', 51, 2354, 76, textRed);
addLabel('0', 61, 2931, 76, textBlue);

addLabel('60 ' + degC, 1803, 93, 76, textRed);
addLabel('17  ' + degC, 1802, 637, 76, textBlue);
addLabel('60 ' + degC, 1798, 854, 76, textRed);
addLabel('17 ' + degC, 1785, 1399, 76, textBlue);
addLabel('60 ' + degC, 1801, 1590, 76, textRed);
addLabel('17 ' + degC, 1802, 2130, 76, textBlue);
addLabel('60 ' + degC, 1806, 2385, 76, textRed);
addLabel('17 ' + degC, 1790, 2931, 76, textBlue);

addLabel('(a)   <i>t</i> = 17 ms', 1353, 738, 82, '#000');
addLabel('(b) <i>t</i>=26 ms', 1373, 1502, 82, '#000');
addLabel('(c) <i>t</i> = 31 ms', 1466, 2265, 82, '#000');
addLabel('(d) <i>t</i> = 40 ms', 1440, 3032, 82, '#000');

addLabel('1 mm', 1200, 183, 88, '#ffffff');
addLabel('oscillation', 640, 1024, 82.5, '#fdff2a', 'bold');
addLabel('Without low-temperature ring', 2264, 1099, 75.5, '#000', 'bold');
</script>
</body>
</html>
